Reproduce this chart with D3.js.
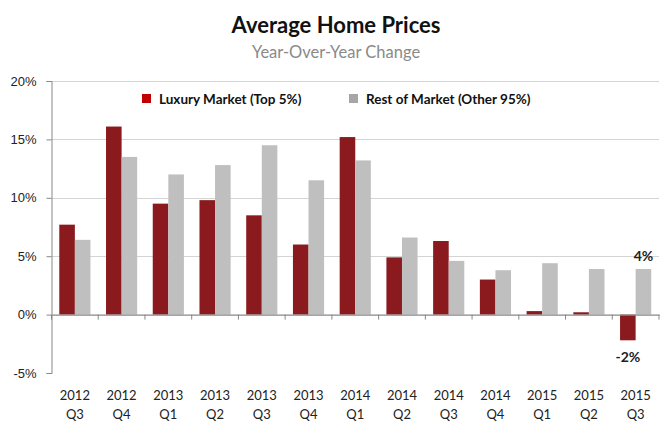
<!DOCTYPE html>
<html>
<head>
<meta charset="utf-8">
<script src="https://cdn.jsdelivr.net/npm/d3@7"></script>
<style>
  body { margin: 0; background: #fff; }
  svg { font-family: Lato, "Open Sans", sans-serif; }
</style>
</head>
<body>
<svg id="chart"></svg>
<script>
(function() {
    const width = 672;
    const height = 432;
    const margin = { top: 81, right: 13, bottom: 59, left: 51.5 };

    // --- DATA ---
    const years = ["2012", "2012", "2013", "2013", "2013", "2013", "2014", "2014", "2014", "2014", "2015", "2015", "2015"];
    const quarters = ["Q3", "Q4", "Q1", "Q2", "Q3", "Q4", "Q1", "Q2", "Q3", "Q4", "Q1", "Q2", "Q3"];
    const luxury = [7.7, 16.1, 9.5, 9.8, 8.5, 6.0, 15.2, 4.9, 6.3, 3.0, 0.3, 0.2, -2.2];
    const rest = [6.4, 13.5, 12.0, 12.8, 14.5, 11.5, 13.2, 6.6, 4.6, 3.8, 4.4, 3.9, 3.9];
    const yTicks = [-5, 0, 5, 10, 15, 20];
    const seriesNames = ["Luxury Market (Top 5%)", "Rest of Market (Other 95%)"];

    const svg = d3.select("#chart")
        .attr("width", width)
        .attr("height", height);

    const idx = d3.range(years.length);

    // --- SCALES ---
    const x = d3.scaleBand()
        .domain(idx)
        .range([margin.left, width - margin.right]);

    const inner = d3.scaleBand()
        .domain([0, 1])
        .range([0, x.bandwidth()])
        .paddingOuter(0.5);

    const y = d3.scaleLinear()
        .domain([-5, 20])
        .range([height - margin.bottom, margin.top]);

    // --- GRID ---
    svg.append("g")
        .selectAll("line")
        .data(yTicks.filter(d => d > 0))
        .join("line")
        .attr("x1", margin.left)
        .attr("x2", width - margin.right)
        .attr("y1", d => Math.round(y(d)) + 0.5)
        .attr("y2", d => Math.round(y(d)) + 0.5)
        .attr("stroke", "#d4d4d4")
        .attr("stroke-width", 1.2);

    // --- BARS ---
    const bars = svg.append("g");
    [luxury, rest].forEach((series, s) => {
        bars.selectAll(".s" + s)
            .data(series)
            .join("rect")
            .attr("class", "s" + s)
            .attr("x", (d, i) => x(i) + inner(s))
            .attr("width", inner.bandwidth())
            .attr("y", d => y(Math.max(0, d)))
            .attr("height", d => Math.abs(y(d) - y(0)))
            .attr("fill", s === 0 ? "#8b1a1e" : "#bfbfbf");
    });

    // --- Y AXIS ---
    const yAxis = svg.append("g")
        .attr("transform", `translate(${margin.left},0)`)
        .call(d3.axisLeft(y).tickValues(yTicks).tickSize(5).tickFormat(d => d + "%"));
    yAxis.select(".domain").attr("stroke", "#888");
    yAxis.selectAll(".tick line").attr("stroke", "#888");
    yAxis.selectAll(".tick text")
        .attr("x", -15)
        .attr("font-size", "13px")
        .attr("fill", "#222");

    // --- X AXIS ---
    const xAxis = svg.append("g")
        .attr("transform", `translate(0,${y(0)})`)
        .call(d3.axisBottom(x).tickSize(0).tickFormat(""));
    xAxis.select(".domain").attr("stroke", "#888").attr("stroke-width", 1.2);

    svg.append("g")
        .selectAll("line")
        .data(d3.range(years.length + 1))
        .join("line")
        .attr("x1", i => i < years.length ? x(i) : x(years.length - 1) + x.bandwidth())
        .attr("x2", i => i < years.length ? x(i) : x(years.length - 1) + x.bandwidth())
        .attr("y1", y(0))
        .attr("y2", y(0) + 5)
        .attr("stroke", "#888");

    const xl = svg.append("g").attr("font-size", "13px").attr("fill", "#222").attr("text-anchor", "middle");
    xl.selectAll(".yr")
        .data(years)
        .join("text")
        .attr("x", (d, i) => x(i) + x.bandwidth() / 2)
        .attr("y", 400)
        .text(d => d);
    xl.selectAll(".q")
        .data(quarters)
        .join("text")
        .attr("x", (d, i) => x(i) + x.bandwidth() / 2)
        .attr("y", 419)
        .text(d => d);

    // --- VALUE LABELS (last quarter) ---
    const last = years.length - 1;
    svg.append("text")
        .attr("x", x(last) + inner(1) + inner.bandwidth() / 2)
        .attr("y", y(rest[last]) - 8)
        .attr("text-anchor", "middle")
        .attr("font-size", "14px")
        .attr("font-weight", "bold")
        .attr("fill", "#222")
        .text(Math.round(rest[last]) + "%");
    svg.append("text")
        .attr("x", x(last) + inner(0) + inner.bandwidth() / 2)
        .attr("y", y(luxury[last]) + 22)
        .attr("text-anchor", "middle")
        .attr("font-size", "14px")
        .attr("font-weight", "bold")
        .attr("fill", "#222")
        .text(Math.round(luxury[last]) + "%");

    // --- LEGEND ---
    const legend = svg.append("g").attr("font-size", "13.5px").attr("font-weight", "bold").attr("fill", "#111");
    const legendX = [142, 349];
    const legendColors = ["#c00000", "#a6a6a6"];
    seriesNames.forEach((name, i) => {
        legend.append("rect")
            .attr("x", legendX[i])
            .attr("y", 94)
            .attr("width", 9)
            .attr("height", 9)
            .attr("fill", legendColors[i]);
        legend.append("text")
            .attr("x", legendX[i] + 17)
            .attr("y", 104)
            .text(name);
    });

    // --- TITLES ---
    svg.append("text")
        .attr("x", 336)
        .attr("y", 33)
        .attr("text-anchor", "middle")
        .attr("font-size", "22px")
        .attr("font-weight", "bold")
        .attr("fill", "#111")
        .text("Average Home Prices");
    svg.append("text")
        .attr("x", 336)
        .attr("y", 58)
        .attr("text-anchor", "middle")
        .attr("font-size", "16.5px")
        .attr("fill", "#8a8a8a")
        .text("Year-Over-Year Change");
})();
</script>
</body>
</html>
